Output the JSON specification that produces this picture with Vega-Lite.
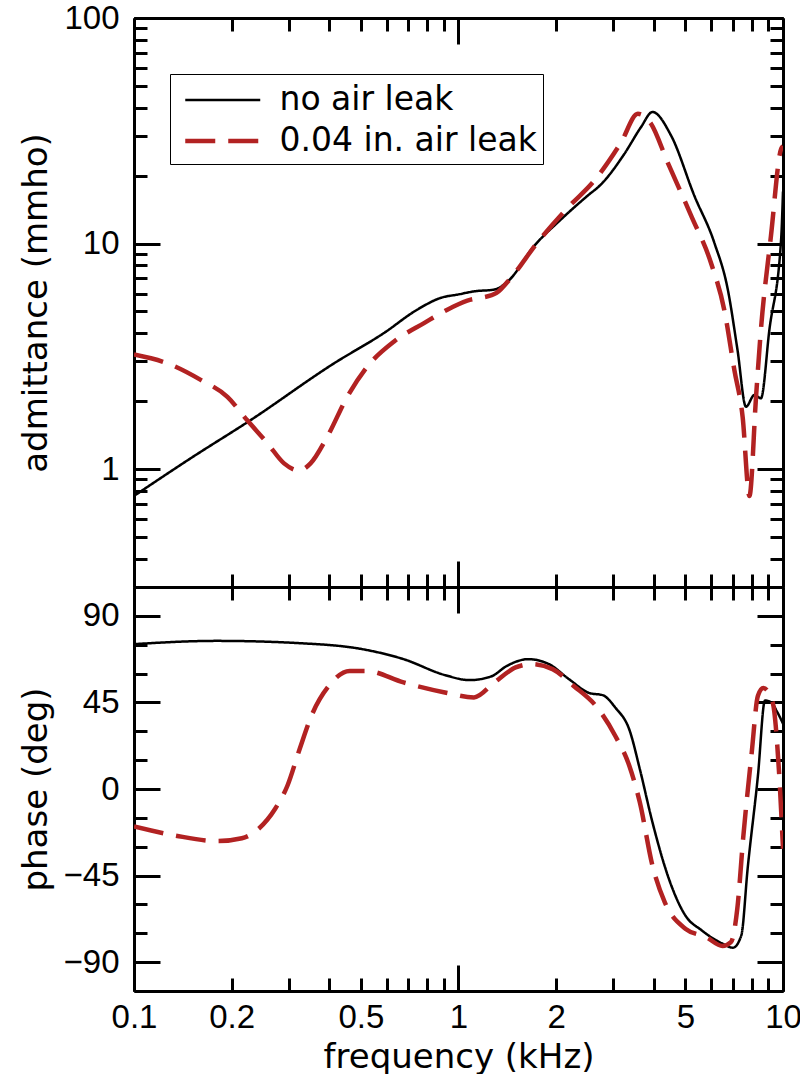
{
  "$schema": "https://vega.github.io/schema/vega-lite/v6.json",
  "background": "white",
  "padding": {"left": 19, "top": 2, "right": 0, "bottom": 0},
  "spacing": 0,
  "bounds": "flush",
  "config": {
    "view": {"stroke": null},
    "axis": {
      "domainColor": "black", "domainWidth": 3, "tickColor": "black", "tickWidth": 3,
      "labelFont": "Liberation Sans", "labelFontSize": 33, "labelColor": "black",
      "titleFont": "DejaVu Sans", "titleFontSize": 34, "titleFontWeight": "normal", "titleColor": "black",
      "grid": false, "labelFlush": false, "labelOverlap": false
    }
  },
  "datasets": {
    "adm": [
      {"f": 0.1, "v": 0.76, "series": "no air leak"},
      {"f": 0.15, "v": 1.12, "series": "no air leak"},
      {"f": 0.229, "v": 1.65, "series": "no air leak"},
      {"f": 0.413, "v": 2.94, "series": "no air leak"},
      {"f": 0.589, "v": 4.01, "series": "no air leak"},
      {"f": 0.746, "v": 5.09, "series": "no air leak"},
      {"f": 0.881, "v": 5.74, "series": "no air leak"},
      {"f": 1.0, "v": 5.95, "series": "no air leak"},
      {"f": 1.12, "v": 6.14, "series": "no air leak"},
      {"f": 1.29, "v": 6.25, "series": "no air leak"},
      {"f": 1.42, "v": 6.8, "series": "no air leak"},
      {"f": 1.71, "v": 9.75, "series": "no air leak"},
      {"f": 2.07, "v": 12.8, "series": "no air leak"},
      {"f": 2.5, "v": 16.3, "series": "no air leak"},
      {"f": 2.75, "v": 18.3, "series": "no air leak"},
      {"f": 3.24, "v": 24.9, "series": "no air leak"},
      {"f": 3.65, "v": 32.8, "series": "no air leak"},
      {"f": 3.96, "v": 38.3, "series": "no air leak"},
      {"f": 4.52, "v": 30.1, "series": "no air leak"},
      {"f": 5.33, "v": 16.3, "series": "no air leak"},
      {"f": 6.14, "v": 10.1, "series": "no air leak"},
      {"f": 6.76, "v": 6.25, "series": "no air leak"},
      {"f": 7.24, "v": 3.38, "series": "no air leak"},
      {"f": 7.69, "v": 1.89, "series": "no air leak"},
      {"f": 8.16, "v": 2.13, "series": "no air leak"},
      {"f": 8.55, "v": 2.06, "series": "no air leak"},
      {"f": 9.08, "v": 4.15, "series": "no air leak"},
      {"f": 9.87, "v": 10.5, "series": "no air leak"},
      {"f": 10, "v": 17, "series": "no air leak"},
      {"f": 0.1, "v": 3.22, "series": "0.04 in. air leak"},
      {"f": 0.127, "v": 2.94, "series": "0.04 in. air leak"},
      {"f": 0.161, "v": 2.48, "series": "0.04 in. air leak"},
      {"f": 0.194, "v": 2.09, "series": "0.04 in. air leak"},
      {"f": 0.223, "v": 1.65, "series": "0.04 in. air leak"},
      {"f": 0.258, "v": 1.3, "series": "0.04 in. air leak"},
      {"f": 0.29, "v": 1.06, "series": "0.04 in. air leak"},
      {"f": 0.322, "v": 0.986, "series": "0.04 in. air leak"},
      {"f": 0.35, "v": 1.06, "series": "0.04 in. air leak"},
      {"f": 0.394, "v": 1.39, "series": "0.04 in. air leak"},
      {"f": 0.454, "v": 2.09, "series": "0.04 in. air leak"},
      {"f": 0.524, "v": 2.85, "series": "0.04 in. air leak"},
      {"f": 0.633, "v": 3.68, "series": "0.04 in. air leak"},
      {"f": 0.783, "v": 4.44, "series": "0.04 in. air leak"},
      {"f": 0.946, "v": 5.18, "series": "0.04 in. air leak"},
      {"f": 1.09, "v": 5.64, "series": "0.04 in. air leak"},
      {"f": 1.17, "v": 5.74, "series": "0.04 in. air leak"},
      {"f": 1.31, "v": 6.04, "series": "0.04 in. air leak"},
      {"f": 1.45, "v": 7.04, "series": "0.04 in. air leak"},
      {"f": 1.75, "v": 10.1, "series": "0.04 in. air leak"},
      {"f": 2.17, "v": 14.4, "series": "0.04 in. air leak"},
      {"f": 2.62, "v": 19.0, "series": "0.04 in. air leak"},
      {"f": 3.17, "v": 28.1, "series": "0.04 in. air leak"},
      {"f": 3.57, "v": 37.6, "series": "0.04 in. air leak"},
      {"f": 3.92, "v": 34.0, "series": "0.04 in. air leak"},
      {"f": 4.41, "v": 22.9, "series": "0.04 in. air leak"},
      {"f": 5.21, "v": 13.3, "series": "0.04 in. air leak"},
      {"f": 6.0, "v": 8.2, "series": "0.04 in. air leak"},
      {"f": 6.59, "v": 5.09, "series": "0.04 in. air leak"},
      {"f": 7.08, "v": 2.75, "series": "0.04 in. air leak"},
      {"f": 7.51, "v": 1.7, "series": "0.04 in. air leak"},
      {"f": 7.88, "v": 0.76, "series": "0.04 in. air leak"},
      {"f": 8.26, "v": 2.1, "series": "0.04 in. air leak"},
      {"f": 8.55, "v": 4.15, "series": "0.04 in. air leak"},
      {"f": 9.18, "v": 10.8, "series": "0.04 in. air leak"},
      {"f": 9.87, "v": 26.3, "series": "0.04 in. air leak"},
      {"f": 10, "v": 27, "series": "0.04 in. air leak"}
    ],
    "phase": [
      {"f": 0.1, "v": 75.3, "series": "no air leak"},
      {"f": 0.18, "v": 77, "series": "no air leak"},
      {"f": 0.324, "v": 75.8, "series": "no air leak"},
      {"f": 0.505, "v": 72.7, "series": "no air leak"},
      {"f": 0.677, "v": 67.5, "series": "no air leak"},
      {"f": 0.909, "v": 59.2, "series": "no air leak"},
      {"f": 1.08, "v": 56.6, "series": "no air leak"},
      {"f": 1.26, "v": 58.5, "series": "no air leak"},
      {"f": 1.41, "v": 64, "series": "no air leak"},
      {"f": 1.64, "v": 67.5, "series": "no air leak"},
      {"f": 1.9, "v": 64.9, "series": "no air leak"},
      {"f": 2.19, "v": 57.1, "series": "no air leak"},
      {"f": 2.54, "v": 49.8, "series": "no air leak"},
      {"f": 2.78, "v": 48.8, "series": "no air leak"},
      {"f": 3.04, "v": 42.4, "series": "no air leak"},
      {"f": 3.37, "v": 30.3, "series": "no air leak"},
      {"f": 3.62, "v": 10.4, "series": "no air leak"},
      {"f": 3.96, "v": -17.3, "series": "no air leak"},
      {"f": 4.45, "v": -46.7, "series": "no air leak"},
      {"f": 5.0, "v": -65.7, "series": "no air leak"},
      {"f": 5.62, "v": -73.5, "series": "no air leak"},
      {"f": 6.51, "v": -80.4, "series": "no air leak"},
      {"f": 7.01, "v": -82.5, "series": "no air leak"},
      {"f": 7.44, "v": -76.1, "series": "no air leak"},
      {"f": 7.78, "v": -41.5, "series": "no air leak"},
      {"f": 8.37, "v": 6.9, "series": "no air leak"},
      {"f": 8.8, "v": 46, "series": "no air leak"},
      {"f": 9.2, "v": 45, "series": "no air leak"},
      {"f": 9.6, "v": 40, "series": "no air leak"},
      {"f": 10, "v": 34, "series": "no air leak"},
      {"f": 0.1, "v": -19.5, "series": "0.04 in. air leak"},
      {"f": 0.134, "v": -24.2, "series": "0.04 in. air leak"},
      {"f": 0.18, "v": -27.1, "series": "0.04 in. air leak"},
      {"f": 0.215, "v": -25.6, "series": "0.04 in. air leak"},
      {"f": 0.242, "v": -20.7, "series": "0.04 in. air leak"},
      {"f": 0.272, "v": -10.4, "series": "0.04 in. air leak"},
      {"f": 0.297, "v": 1.7, "series": "0.04 in. air leak"},
      {"f": 0.324, "v": 20.8, "series": "0.04 in. air leak"},
      {"f": 0.354, "v": 38.9, "series": "0.04 in. air leak"},
      {"f": 0.399, "v": 53.7, "series": "0.04 in. air leak"},
      {"f": 0.462, "v": 61.4, "series": "0.04 in. air leak"},
      {"f": 0.519, "v": 61.4, "series": "0.04 in. air leak"},
      {"f": 0.677, "v": 55.4, "series": "0.04 in. air leak"},
      {"f": 0.908, "v": 50.2, "series": "0.04 in. air leak"},
      {"f": 1.116, "v": 47.6, "series": "0.04 in. air leak"},
      {"f": 1.29, "v": 55.4, "series": "0.04 in. air leak"},
      {"f": 1.5, "v": 63.2, "series": "0.04 in. air leak"},
      {"f": 1.68, "v": 64.9, "series": "0.04 in. air leak"},
      {"f": 1.95, "v": 62.3, "series": "0.04 in. air leak"},
      {"f": 2.26, "v": 53.7, "series": "0.04 in. air leak"},
      {"f": 2.7, "v": 41.5, "series": "0.04 in. air leak"},
      {"f": 3.04, "v": 27.7, "series": "0.04 in. air leak"},
      {"f": 3.36, "v": 12.1, "series": "0.04 in. air leak"},
      {"f": 3.62, "v": -6.9, "series": "0.04 in. air leak"},
      {"f": 3.96, "v": -39.8, "series": "0.04 in. air leak"},
      {"f": 4.32, "v": -58.8, "series": "0.04 in. air leak"},
      {"f": 5.0, "v": -72.6, "series": "0.04 in. air leak"},
      {"f": 5.8, "v": -77, "series": "0.04 in. air leak"},
      {"f": 6.51, "v": -81.6, "series": "0.04 in. air leak"},
      {"f": 6.91, "v": -79.6, "series": "0.04 in. air leak"},
      {"f": 7.23, "v": -62.3, "series": "0.04 in. air leak"},
      {"f": 7.55, "v": -24.2, "series": "0.04 in. air leak"},
      {"f": 8.01, "v": 19, "series": "0.04 in. air leak"},
      {"f": 8.37, "v": 48.5, "series": "0.04 in. air leak"},
      {"f": 8.7, "v": 52.5, "series": "0.04 in. air leak"},
      {"f": 9.29, "v": 45, "series": "0.04 in. air leak"},
      {"f": 9.71, "v": 10.4, "series": "0.04 in. air leak"},
      {"f": 10, "v": -31, "series": "0.04 in. air leak"}
    ]
  },
  "vconcat": [
    {
      "width": 649,
      "height": 569,
      "data": {"name": "adm"},
      "resolve": {"axis": {"x": "independent", "y": "independent"}},
      "layer": [
        {
          "mark": {"type": "line", "interpolate": "monotone", "clip": true},
          "encoding": {
            "x": {"field": "f", "type": "quantitative",
              "scale": {"type": "log", "domain": [0.1, 10], "nice": false},
              "axis": {"orient": "bottom", "values": [0.2,0.3,0.4,0.5,0.6,0.7,0.8,0.9,2,3,4,5,6,7,8,9], "tickSize": -13, "labels": false, "title": null}},
            "y": {"field": "v", "type": "quantitative",
              "scale": {"type": "log", "domain": [0.3, 100], "nice": false},
              "axis": {"orient": "left", "values": [0.3,0.4,0.5,0.6,0.7,0.8,0.9,1,2,3,4,5,6,7,8,9,10,20,30,40,50,60,70,80,90,100],
                "tickSize": -13, "labelPadding": 28,
                "labelExpr": "indexof([1,10,100], datum.value) >= 0 ? format(datum.value, '~g') : ''",
                "title": "admittance (mmho)", "titleX": -98, "titleY": 284.5, "titleAngle": -90,
                "titleBaseline": "middle", "titleAlign": "center"}},
            "color": {"field": "series", "type": "nominal",
              "scale": {"domain": ["no air leak", "0.04 in. air leak"], "range": ["black", "#b22222"]},
              "legend": {"orient": "none", "legendX": 36, "legendY": 56, "title": null,
                "fillColor": "white", "strokeColor": "black", "padding": 6,
                "symbolType": "M-2,0H2", "symbolSize": 1406, "symbolOffset": 25.75,
                "labelFont": "DejaVu Sans", "labelLimit": 600,
                "labelFontSize": 33, "labelOffset": 35.75, "rowPadding": 3, "labelColor": "black"}},
            "strokeDash": {"field": "series", "type": "nominal",
              "scale": {"domain": ["no air leak", "0.04 in. air leak"], "range": [[1, 0], [30, 13]]}},
            "strokeWidth": {"field": "series", "type": "nominal",
              "scale": {"domain": ["no air leak", "0.04 in. air leak"], "range": [2.5, 4.5]}}
          }
        },
        {
          "mark": {"type": "line", "opacity": 0},
          "encoding": {
            "x": {"field": "f", "type": "quantitative",
              "axis": {"orient": "bottom", "values": [1], "tickSize": -26, "labels": false, "title": null}},
            "y": {"field": "v", "type": "quantitative",
              "axis": {"orient": "left", "values": [1, 10, 100], "tickSize": -26, "labels": false, "title": null}}
          }
        },
        {
          "mark": {"type": "line", "opacity": 0},
          "encoding": {
            "x": {"field": "f", "type": "quantitative",
              "axis": {"orient": "top", "values": [0.2,0.3,0.4,0.5,0.6,0.7,0.8,0.9,2,3,4,5,6,7,8,9], "tickSize": -13, "labels": false, "title": null}},
            "y": {"field": "v", "type": "quantitative",
              "axis": {"orient": "right", "values": [0.3,0.4,0.5,0.6,0.7,0.8,0.9,2,3,4,5,6,7,8,9,20,30,40,50,60,70,80,90], "tickSize": -13, "labels": false, "title": null}}
          }
        },
        {
          "mark": {"type": "line", "opacity": 0},
          "encoding": {
            "x": {"field": "f", "type": "quantitative",
              "axis": {"orient": "top", "values": [1], "tickSize": -26, "labels": false, "title": null}},
            "y": {"field": "v", "type": "quantitative",
              "axis": {"orient": "right", "values": [1, 10, 100], "tickSize": -26, "labels": false, "title": null}}
          }
        }
      ]
    },
    {
      "width": 649,
      "height": 404,
      "data": {"name": "phase"},
      "resolve": {"axis": {"x": "independent", "y": "independent"}},
      "layer": [
        {
          "mark": {"type": "line", "interpolate": "monotone", "clip": true},
          "encoding": {
            "x": {"field": "f", "type": "quantitative",
              "scale": {"type": "log", "domain": [0.1, 10], "nice": false},
              "axis": {"orient": "bottom", "values": [0.1,0.2,0.3,0.4,0.5,0.6,0.7,0.8,0.9,1,2,3,4,5,6,7,8,9,10],
                "tickSize": -13, "labelPadding": 23,
                "labelExpr": "indexof([0.1,0.2,0.5,1,2,5,10], datum.value) >= 0 ? format(datum.value, '~g') : ''",
                "title": "frequency (kHz)", "titleX": 324.5, "titleY": 66, "titleBaseline": "middle", "titleAlign": "center", "titleAngle": 0}},
            "y": {"field": "v", "type": "quantitative",
              "scale": {"domain": [-105, 105], "nice": false, "zero": false},
              "axis": {"orient": "left", "values": [-90,-75,-60,-45,-30,-15,0,15,30,45,60,75,90],
                "tickSize": -13, "labelPadding": 28,
                "labelExpr": "datum.value % 45 == 0 ? datum.label : ''",
                "title": "phase (deg)", "titleX": -98, "titleY": 202, "titleAngle": -90,
                "titleBaseline": "middle", "titleAlign": "center"}},
            "color": {"field": "series", "type": "nominal",
              "scale": {"domain": ["no air leak", "0.04 in. air leak"], "range": ["black", "#b22222"]}},
            "strokeDash": {"field": "series", "type": "nominal",
              "scale": {"domain": ["no air leak", "0.04 in. air leak"], "range": [[1, 0], [30, 13]]}},
            "strokeWidth": {"field": "series", "type": "nominal",
              "scale": {"domain": ["no air leak", "0.04 in. air leak"], "range": [2.5, 4.5]}}
          }
        },
        {
          "mark": {"type": "line", "opacity": 0},
          "encoding": {
            "x": {"field": "f", "type": "quantitative",
              "axis": {"orient": "bottom", "values": [1], "tickSize": -26, "labels": false, "title": null}},
            "y": {"field": "v", "type": "quantitative",
              "axis": {"orient": "left", "values": [-90, -45, 0, 45, 90], "tickSize": -26, "labels": false, "title": null}}
          }
        },
        {
          "mark": {"type": "line", "opacity": 0},
          "encoding": {
            "x": {"field": "f", "type": "quantitative",
              "axis": {"orient": "top", "values": [0.2,0.3,0.4,0.5,0.6,0.7,0.8,0.9,2,3,4,5,6,7,8,9], "tickSize": -13, "labels": false, "title": null}},
            "y": {"field": "v", "type": "quantitative",
              "axis": {"orient": "right", "values": [-75,-60,-30,-15,15,30,60,75], "tickSize": -13, "labels": false, "title": null}}
          }
        },
        {
          "mark": {"type": "line", "opacity": 0},
          "encoding": {
            "x": {"field": "f", "type": "quantitative",
              "axis": {"orient": "top", "values": [1], "tickSize": -26, "labels": false, "title": null}},
            "y": {"field": "v", "type": "quantitative",
              "axis": {"orient": "right", "values": [-90, -45, 0, 45, 90], "tickSize": -26, "labels": false, "title": null}}
          }
        }
      ]
    }
  ]
}
